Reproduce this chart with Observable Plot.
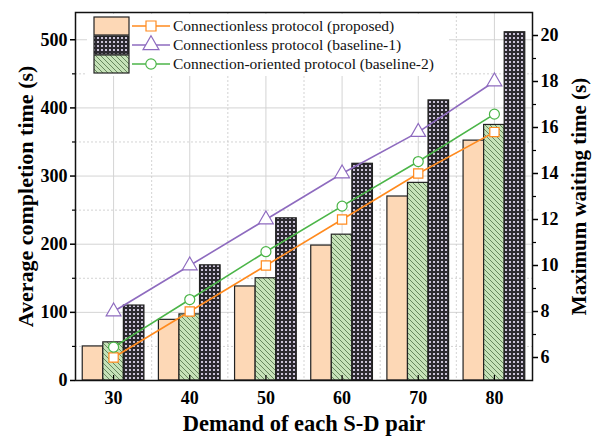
<!DOCTYPE html>
<html>
<head>
<meta charset="utf-8">
<script src="https://cdn.jsdelivr.net/npm/d3@7"></script>
<script src="https://cdn.jsdelivr.net/npm/@observablehq/plot@0.6"></script>
<style>
  html, body { margin: 0; padding: 0; background: #fff; }
  #chart { width: 592px; height: 441px; }
</style>
</head>
<body>
<div id="chart"></div>
<script>
// ---- data ----
const demand = [30, 40, 50, 60, 70, 80];
const seriesNames = [
  "Connectionless protocol (proposed)",
  "Connectionless protocol (baseline-1)",
  "Connection-oriented protocol (baseline-2)"
];
// average completion time (s) – bars, left axis
const avgProposed  = [50, 89, 138, 198, 270, 352];
const avgBaseline1 = [110, 169, 238, 318, 411, 511];
const avgBaseline2 = [56, 97, 150, 214, 290, 375];
// maximum waiting time (s) – lines, right axis
const waitProposed  = [6, 8, 10, 12, 14, 15.8];
const waitBaseline1 = [8, 10, 12, 14, 15.8, 18];
const waitBaseline2 = [6.45, 8.52, 10.6, 12.58, 14.52, 16.58];
// tick labels
const leftTicks = [0, 100, 200, 300, 400, 500];
const leftMinor = [50, 150, 250, 350, 450];
const rightTicks = [6, 8, 10, 12, 14, 16, 18, 20];
const rightMinor = [7, 9, 11, 13, 15, 17, 19];
const xMinor = [35, 45, 55, 65, 75];

// ---- scales ----
const leftDomain = [0, 540];
const rightDomain = [5, 21];
const toLeft = v => (v - rightDomain[0]) / (rightDomain[1] - rightDomain[0]) * (leftDomain[1] - leftDomain[0]) + leftDomain[0];
const toRight = v => (v - leftDomain[0]) / (leftDomain[1] - leftDomain[0]) * (rightDomain[1] - rightDomain[0]) + rightDomain[0];

const colors = {proposed: "#ff8a1e", baseline1: "#8e6bbf", baseline2: "#4bb548"};
const fills = {proposed: "#fdd8b6", baseline1: "url(#checker)", baseline2: "url(#hatch)"};
const barW = 2.7;

const bars = [];
demand.forEach((d, i) => {
  bars.push({x1: d - 1.5 * barW, x2: d - 0.5 * barW, y: avgProposed[i], s: "proposed"});
  bars.push({x1: d - 0.5 * barW, x2: d + 0.5 * barW, y: avgBaseline2[i], s: "baseline2"});
  bars.push({x1: d + 0.5 * barW, x2: d + 1.5 * barW, y: avgBaseline1[i], s: "baseline1"});
});
const lineData = (vals, s) => demand.map((d, i) => ({x: d, y: toLeft(vals[i]), s}));
const lp = lineData(waitProposed, "proposed");
const l1 = lineData(waitBaseline1, "baseline1");
const l2 = lineData(waitBaseline2, "baseline2");

const font = "'Liberation Serif', 'Times New Roman', serif";

const plot = Plot.plot({
  width: 592,
  height: 441,
  marginLeft: 75,
  marginRight: 60,
  marginTop: 12,
  marginBottom: 61,
  style: {fontFamily: font, background: "#fff", color: "#000"},
  x: {domain: [25, 85]},
  y: {domain: leftDomain},
  marks: [
    // grid
    Plot.ruleY(leftMinor, {stroke: "#c8c8c8", strokeWidth: 0.8, strokeDasharray: "2,2"}),
    Plot.ruleY(leftTicks.slice(1), {stroke: "#d4d4d4", strokeWidth: 1}),
    Plot.ruleX(xMinor, {stroke: "#c8c8c8", strokeWidth: 0.8, strokeDasharray: "2,2"}),
    Plot.ruleX(demand, {stroke: "#d4d4d4", strokeWidth: 1}),
    // bars
    Plot.rectY(bars, {x1: "x1", x2: "x2", y1: 0, y2: "y", fill: d => fills[d.s], stroke: "#222", strokeWidth: 1.2}),
    // lines
    Plot.line(lp, {x: "x", y: "y", stroke: colors.proposed, strokeWidth: 1.6}),
    Plot.line(l1, {x: "x", y: "y", stroke: colors.baseline1, strokeWidth: 1.6}),
    Plot.line(l2, {x: "x", y: "y", stroke: colors.baseline2, strokeWidth: 1.6}),
    Plot.dot(lp, {x: "x", y: "y", symbol: "square", r: 5.2, fill: "white", stroke: colors.proposed, strokeWidth: 1.2}),
    Plot.dot(l1, {x: "x", y: "y", symbol: "triangle", r: 5.5, fill: "white", stroke: colors.baseline1, strokeWidth: 1.2}),
    Plot.dot(l2, {x: "x", y: "y", symbol: "circle", r: 5, fill: "white", stroke: colors.baseline2, strokeWidth: 1.2}),
    // frame
    Plot.frame({stroke: "#111", strokeWidth: 1.5}),
    // left axis
    Plot.axisY(leftTicks, {anchor: "left", tickSize: 5, tickPadding: 3, fontSize: 18, fontWeight: "bold", strokeWidth: 1.5, label: null}),
    Plot.axisY(leftMinor, {anchor: "left", tickSize: 3, text: null, strokeWidth: 1.2, label: null}),
    // right axis
    Plot.axisY(rightTicks.map(toLeft), {anchor: "right", tickSize: 5, tickPadding: 3, fontSize: 18, fontWeight: "bold", strokeWidth: 1.5, label: null, tickFormat: d => String(Math.round(toRight(d)))}),
    Plot.axisY(rightMinor.map(toLeft), {anchor: "right", tickSize: 3, text: null, strokeWidth: 1.2, label: null}),
    // bottom axis
    Plot.axisX(demand, {anchor: "bottom", tickSize: 0, tickPadding: 11, fontSize: 18, fontWeight: "bold", label: null}),
    Plot.axisX(demand, {anchor: "bottom", tickSize: -5, text: null, strokeWidth: 1.2, label: null}),
    // axis titles
    Plot.text(["Average completion time (s)"], {frameAnchor: "left", textAnchor: "middle", dx: -50, dy: 0, rotate: -90, fontSize: 22, fontWeight: "bold"}),
    Plot.text(["Maximum waiting time (s)"], {frameAnchor: "right", textAnchor: "middle", dx: 47, dy: 0, rotate: -90, fontSize: 21, fontWeight: "bold"}),
    Plot.text(["Demand of each S-D pair"], {frameAnchor: "bottom", textAnchor: "middle", dy: 50, fontSize: 22.5, fontWeight: "bold"})
  ]
});

const svg = d3.select(plot);
// patterns
const defs = svg.insert("defs", ":first-child");
const chk = defs.append("pattern").attr("id", "checker").attr("patternUnits", "userSpaceOnUse")
  .attr("width", 4).attr("height", 4);
chk.append("rect").attr("width", 4).attr("height", 4).attr("fill", "#2c2a30");
chk.append("rect").attr("x", 1).attr("y", 1).attr("width", 2).attr("height", 2).attr("fill", "#c9c1d6");
const hat = defs.append("pattern").attr("id", "hatch").attr("patternUnits", "userSpaceOnUse")
  .attr("width", 5).attr("height", 5);
hat.append("rect").attr("width", 5).attr("height", 5).attr("fill", "#c6e2b8");
hat.append("path").attr("d", "M0,0L5,5M-1,4L1,6M4,-1L6,1").attr("stroke", "#4f6e46").attr("stroke-width", 0.8);

// legend
const lg = svg.append("g").attr("font-family", font).attr("text-anchor", "start");
lg.append("rect").attr("x", 87).attr("y", 14).attr("width", 362).attr("height", 62).attr("fill", "#fff").attr("stroke", "none");
const legendItems = [
  {name: seriesNames[0], s: "proposed", sym: d3.symbolSquare, size: 100},
  {name: seriesNames[1], s: "baseline1", sym: d3.symbolTriangle, size: 110},
  {name: seriesNames[2], s: "baseline2", sym: d3.symbolCircle, size: 85}
];
legendItems.forEach((it, i) => {
  const cy = 26 + i * 19;
  lg.append("rect").attr("x", 94).attr("y", cy - 9).attr("width", 35).attr("height", 18)
    .attr("fill", fills[it.s]).attr("stroke", "#222").attr("stroke-width", 1.2);
  lg.append("line").attr("x1", 132).attr("x2", 170).attr("y1", cy).attr("y2", cy)
    .attr("stroke", colors[it.s]).attr("stroke-width", 1.6);
  lg.append("path").attr("d", d3.symbol(it.sym, it.size)()).attr("transform", `translate(151,${cy})`)
    .attr("fill", "white").attr("stroke", colors[it.s]).attr("stroke-width", 1.2);
  lg.append("text").attr("x", 173).attr("y", cy).attr("dy", "0.35em").attr("font-size", 15.5).attr("fill", "#111").text(it.name);
});

document.getElementById("chart").appendChild(plot);
</script>
</body>
</html>
